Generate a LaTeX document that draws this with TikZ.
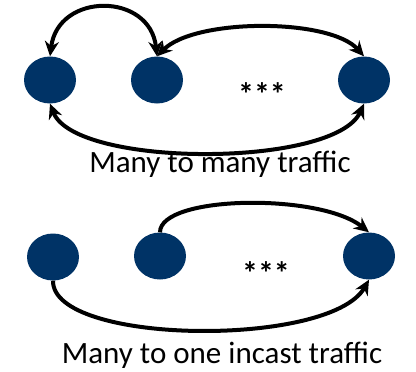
\documentclass[tikz,border=0pt]{standalone}
\usepackage{fontspec}
\setmainfont{Carlito}
\usetikzlibrary{shapes.geometric,arrows.meta}
\definecolor{hostblue}{RGB}{0,51,102}
\begin{document}
\begin{tikzpicture}[x=1pt,y=-1pt,
  host/.style={ellipse,fill=hostblue,minimum width=52pt,minimum height=47pt,inner sep=0pt},
  flow/.style={line width=4pt,-{Stealth[length=15pt,width=14pt]}},
  biflow/.style={line width=4pt,{Stealth[length=15pt,width=14pt]}-{Stealth[length=15pt,width=14pt]}},
  dots/.style={font=\fontsize{32}{36}\bfseries\selectfont},
  caption/.style={font=\fontsize{31}{37}\selectfont}]
\useasboundingbox (0,0) rectangle (416,372);

% many to many
\node[host] (a1) at (50,80) {};
\node[host] (b1) at (157,80) {};
\node[host] (c1) at (364,80) {};
\node[dots] (d1) at (262,94) {***};
\node[caption] (t1) at (220,164) {Many to many traffic};
\draw[biflow] (a1.north) .. controls (58,-8) and (150,-8) .. (b1.north);
\draw[biflow] (b1.north) .. controls (195,18) and (330,18) .. (c1.north);
\draw[biflow] (a1.south) .. controls (75,168) and (335,168) .. (c1.south);

% many to one
\node[host] (a2) at (53,257) {};
\node[host] (b2) at (160,256) {};
\node[host] (c2) at (369,256) {};
\node[dots] (d2) at (266,273) {***};
\node[caption] (t2) at (222,355) {Many to one incast traffic};
\draw[flow] (b2.north) .. controls (160,195) and (320,193) .. (c2.north);
\draw[flow] (a2.south) .. controls (52,345) and (330,348) .. (c2.south);
\end{tikzpicture}
\end{document}
